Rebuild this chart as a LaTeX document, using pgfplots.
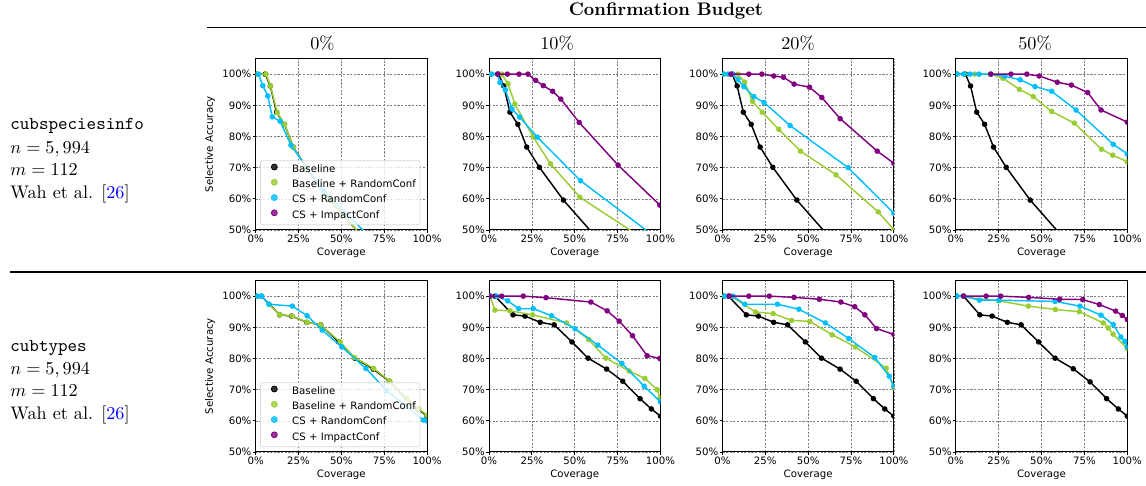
\documentclass[border=0pt]{standalone}
\usepackage{fontspec}
\usepackage{pgfplots}
\pgfplotsset{compat=1.18}
\newfontfamily\djv{DejaVu Sans}
\newcommand\mpl{\djv\fontsize{5.6pt}{6.7pt}\selectfont}
\definecolor{ygreen}{HTML}{9ACD32}
\definecolor{dsky}{HTML}{00BFFF}
\definecolor{mplpurple}{HTML}{800080}
\definecolor{gridgray}{HTML}{808080}

\pgfplotsset{
  panel/.style={
    width=94.3pt, height=94.3pt, scale only axis, anchor=south west,
    xmin=0, xmax=100, ymin=50, ymax=105,
    xtick={0,25,50,75,100}, xticklabels={0\%,25\%,50\%,75\%,100\%},
    ytick={50,60,70,80,90,100}, yticklabels={50\%,60\%,70\%,80\%,90\%,100\%},
    grid=major, grid style={gridgray, line width=0.35pt, dash pattern=on 1.2pt off 0.8pt},
    tick align=outside, xtick pos=left, ytick pos=left, major tick length=1.5pt,
    tick style={black, line width=0.45pt},
    axis line style={black, line width=0.55pt},
    tick label style={font=\mpl},
    xticklabel style={inner sep=1pt},
    yticklabel style={inner sep=0.6pt},
    label style={font=\mpl},
    xlabel={Coverage},
    xlabel style={at={(axis description cs:0.5,-0.134)}, anchor=center},
    ylabel style={at={(axis description cs:-0.266,0.5)}, anchor=center},
    clip marker paths=true,
    legend image code/.code={
      \path[draw=none, fill=none, sharp corners] (0pt,-1pt) rectangle (15.3pt,1pt);
      \draw[##1, sharp corners, mark=*, mark size=1.65pt, mark options={solid}] plot coordinates {(6.05pt,1.5pt)};
    },
    legend style={at={(0.026,0.029)}, anchor=south west, draw=gray!30,
      rounded corners=1.2pt, fill=white, fill opacity=0.8, text opacity=1,
      font=\mpl, inner xsep=1.6pt, inner ysep=1.65pt, row sep=1.7pt, column sep=0pt,
      nodes={inner sep=0.6pt, text height=4.2pt, text depth=1.3pt}},
    legend cell align=left,
  },
  curve/.style={#1, line width=0.8pt, mark=*, mark size=1.1pt, mark options={solid}, forget plot},
}

\begin{document}
\begin{tikzpicture}[x=0.55pt, y=0.55pt]
\useasboundingbox (0,0) rectangle (1146,486);

% header and rules
\node[anchor=base, inner sep=0] at (666,470) {\bfseries Confirmation Budget};
\draw[line width=0.6pt] (207,458.7) -- (1146,458.7);
\draw[line width=0.6pt] (10,214) -- (1146,214);
\node[anchor=base, inner sep=0] at (322.5,436.7) {0\%};
\node[anchor=base, inner sep=0] at (557,436.7) {10\%};
\node[anchor=base, inner sep=0] at (798,436.7) {20\%};
\node[anchor=base, inner sep=0] at (1035,436.7) {50\%};

% dataset descriptions
\node[anchor=base west, inner sep=0] at (10,356) {\texttt{cubspeciesinfo}};
\node[anchor=base west, inner sep=0] at (10,332.7) {$n=5,994$};
\node[anchor=base west, inner sep=0] at (10,310.7) {$m=112$};
\node[anchor=base west, inner sep=0] at (10,287.7) {Wah et al. [\textcolor{blue}{26}]};
\node[anchor=base west, inner sep=0] at (10,134.5) {\texttt{cubtypes}};
\node[anchor=base west, inner sep=0] at (10,111.2) {$n=5,994$};
\node[anchor=base west, inner sep=0] at (10,89.2) {$m=112$};
\node[anchor=base west, inner sep=0] at (10,66.2) {Wah et al. [\textcolor{blue}{26}]};

% ---------------- cubspeciesinfo ----------------
\begin{axis}[panel, at={(140.58pt,140.8pt)}, ylabel={Selective Accuracy}]
\addplot[curve=black] coordinates {(0.5,100) (5.6,100) (8.6,96.2) (12.2,87.8) (16.8,83.9) (22.0,76.6) (29.4,70.1) (43.4,59.6) (65,46.1)};
\addplot[curve=ygreen] coordinates {(0.5,100) (6.0,100) (8.7,96.2) (12.6,87.7) (16.9,83.9) (22.1,76.5) (29.4,70.1) (43.4,59.6) (65,46.1)};
\addplot[curve=dsky] coordinates {(1.7,100) (4.2,96.3) (7.1,93.0) (9.7,86.3) (14.3,84.9) (20.6,77.2) (39.6,62.6) (70,45.9)};
\addlegendimage{black}\addlegendentry{Baseline}
\addlegendimage{ygreen}\addlegendentry{Baseline + RandomConf}
\addlegendimage{dsky}\addlegendentry{CS + RandomConf}
\addlegendimage{mplpurple}\addlegendentry{CS + ImpactConf}
\end{axis}

\begin{axis}[panel, at={(268.95pt,140.8pt)}]
\addplot[curve=black] coordinates {(0.5,100) (5.6,100) (8.6,96.2) (12.2,87.8) (16.8,83.9) (22.0,76.6) (29.4,70.1) (43.4,59.6) (65,46.1)};
\addplot[curve=ygreen] coordinates {(1,100) (7.4,100) (11.1,96.9) (15.1,90.4) (25.8,79.8) (35.9,71.2) (53.0,60.5) (90,47.2)};
\addplot[curve=dsky] coordinates {(1.6,100) (4.9,100) (6.4,97.3) (9.5,95.0) (13.4,88.8) (17.9,86.2) (28.2,79.8) (53.4,65.8) (100,46.5)};
\addplot[curve=mplpurple] coordinates {(5,100) (10.7,100) (17.5,100) (22.7,100) (27.2,98.0) (31.7,96.3) (37.1,94.5) (41.9,92.0) (52.6,84.5) (75.3,70.8) (99.6,58.0)};
\end{axis}

\begin{axis}[panel, at={(397.32pt,140.8pt)}]
\addplot[curve=black] coordinates {(0.5,100) (5.6,100) (8.6,96.2) (12.2,87.8) (16.8,83.9) (22.0,76.6) (29.4,70.1) (43.4,59.6) (65,46.1)};
\addplot[curve=ygreen] coordinates {(1,100) (9.1,100) (13.0,97.4) (17.5,91.3) (23.2,87.8) (32.9,82.3) (45.5,75.3) (66.3,67.7) (90.9,55.8) (100,50.1)};
\addplot[curve=dsky] coordinates {(0.4,100) (3.3,100) (6.2,100) (9.1,98.2) (12.5,96.0) (18.3,92.8) (24.3,90.9) (39.5,83.5) (73.3,70.0) (100,55.4)};
\addplot[curve=mplpurple] coordinates {(5,100) (15.4,100) (23.0,100) (30.0,99.4) (35.6,99.0) (41.8,96.8) (50.8,95.8) (58.0,92.5) (68.7,85.7) (90.3,75.3) (100,71.4)};
\end{axis}

\begin{axis}[panel, at={(525.69pt,140.8pt)}]
\addplot[curve=black] coordinates {(0.5,100) (5.6,100) (8.6,96.2) (12.2,87.8) (16.8,83.9) (22.0,76.6) (29.4,70.1) (43.4,59.6) (65,46.1)};
\addplot[curve=ygreen] coordinates {(1,100) (5,100) (11,100) (20.0,100) (27.4,98.7) (37.1,95.1) (45.2,92.8) (55.9,88.0) (69.1,84.3) (85.0,75.9) (91.5,74.0) (100,71.9)};
\addplot[curve=dsky] coordinates {(0.6,100) (4.5,100) (8.3,100) (13.6,100) (20.4,100) (28.7,99.3) (37.5,98.2) (46.2,96.0) (55.9,94.5) (70.1,88.5) (91.8,77.5) (100,74.4)};
\addplot[curve=mplpurple] coordinates {(20.4,100) (32.2,100) (41.4,100) (48.7,99.4) (59.2,97.4) (67.4,96.5) (76.9,94.1) (84.7,88.5) (100,84.6)};
\end{axis}

% ---------------- cubtypes ----------------
\begin{axis}[panel, at={(140.58pt,18.7pt)}, ylabel={Selective Accuracy}]
\addplot[curve=black] coordinates {(0.5,100) (3.5,100) (14.0,94.0) (21.0,93.6) (29.9,91.6) (38.0,90.8) (48.4,85.3) (57.8,80.1) (68.6,76.6) (78.0,72.7) (88.1,67.1) (94.7,63.8) (100,61.5)};
\addplot[curve=ygreen] coordinates {(0.5,100) (3.5,100) (7.8,97.4) (14.0,94.0) (21.4,93.6) (30.1,91.6) (37.9,90.8) (49.3,85.3) (57.7,80.3) (68.9,76.8) (78.3,72.7) (88.3,67.1) (95.1,63.9) (100,61.8)};
\addplot[curve=dsky] coordinates {(1.0,100) (3.5,100) (7.8,97.4) (21.4,96.8) (30.1,93.7) (38.8,89.1) (50.3,83.7) (64.3,76.8) (76.7,69.6) (98,60.2) (100,60.0)};
\addlegendimage{black}\addlegendentry{Baseline}
\addlegendimage{ygreen}\addlegendentry{Baseline + RandomConf}
\addlegendimage{dsky}\addlegendentry{CS + RandomConf}
\addlegendimage{mplpurple}\addlegendentry{CS + ImpactConf}
\end{axis}

\begin{axis}[panel, at={(268.95pt,18.7pt)}]
\addplot[curve=black] coordinates {(0.5,100) (3.5,100) (14.0,94.0) (21.0,93.6) (29.9,91.6) (38.0,90.8) (48.4,85.3) (57.8,80.1) (68.6,76.6) (78.0,72.7) (88.1,67.1) (94.7,63.8) (100,61.5)};
\addplot[curve=ygreen] coordinates {(0.6,100) (3.5,95.5) (12.2,95.3) (25.4,94.0) (45.2,91.4) (58.1,86.1) (68.2,80.1) (81.7,76.0) (90.9,73.6) (98.1,70.0) (99.8,67.4)};
\addplot[curve=dsky] coordinates {(0.6,100) (4.5,100) (10.9,98.5) (17.3,96.0) (25.8,96.0) (36.5,93.7) (50.1,89.6) (63.5,84.3) (77.5,78.4) (90.5,71.1) (100,66.1)};
\addplot[curve=mplpurple] coordinates {(0.6,100) (7.4,100) (20.0,100) (33.2,99.5) (59.4,98.1) (68.9,95.3) (75.9,92.0) (83.7,87.3) (92.2,80.9) (99.6,80.0)};
\end{axis}

\begin{axis}[panel, at={(397.32pt,18.7pt)}]
\addplot[curve=black] coordinates {(0.5,100) (3.5,100) (14.0,94.0) (21.0,93.6) (29.9,91.6) (38.0,90.8) (48.4,85.3) (57.8,80.1) (68.6,76.6) (78.0,72.7) (88.1,67.1) (94.7,63.8) (100,61.5)};
\addplot[curve=ygreen] coordinates {(1,100) (5,100) (19.3,94.9) (29.6,94.4) (40.3,92.2) (51.0,91.9) (64.0,87.6) (77.6,83.7) (95.5,76.9) (100,70.7)};
\addplot[curve=dsky] coordinates {(1.4,100) (6.2,100) (13.0,97.4) (32.1,97.4) (44.6,95.8) (60.1,91.4) (73.7,86.4) (88.9,80.3) (97.3,74.3) (100,71.1)};
\addplot[curve=mplpurple] coordinates {(4,100) (15.4,100) (27.4,100) (41.8,99.6) (56.6,99.0) (69.1,98.1) (77.2,96.6) (83.1,94.0) (89.9,89.6) (100,87.7)};
\end{axis}

\begin{axis}[panel, at={(525.69pt,18.7pt)}]
\addplot[curve=black] coordinates {(0.5,100) (4.5,100) (14.0,94.0) (21.2,93.6) (30.1,91.6) (38.1,90.8) (48.3,85.3) (57.9,80.1) (68.5,76.7) (78.3,72.5) (88.0,67.1) (94.8,63.8) (100,61.5)};
\addplot[curve=ygreen] coordinates {(0.6,100) (24.9,98.5) (42.3,96.8) (58.1,95.7) (72.0,95.0) (86.0,91.4) (88.9,89.8) (91.7,87.8) (100,83.2)};
\addplot[curve=dsky] coordinates {(0.6,100) (4.5,100) (13.8,98.7) (25.2,98.7) (57.9,98.3) (72.4,96.8) (84.7,93.9) (91.8,90.9) (96.3,86.9) (98.6,85.5) (100,83.7)};
\addplot[curve=mplpurple] coordinates {(4.5,100) (17.7,100) (26.2,100) (42.5,99.6) (60.6,99.0) (74.0,98.9) (83.7,97.3) (93.2,95.2) (97.1,93.8) (100,92.5)};
\end{axis}
\end{tikzpicture}
\end{document}
